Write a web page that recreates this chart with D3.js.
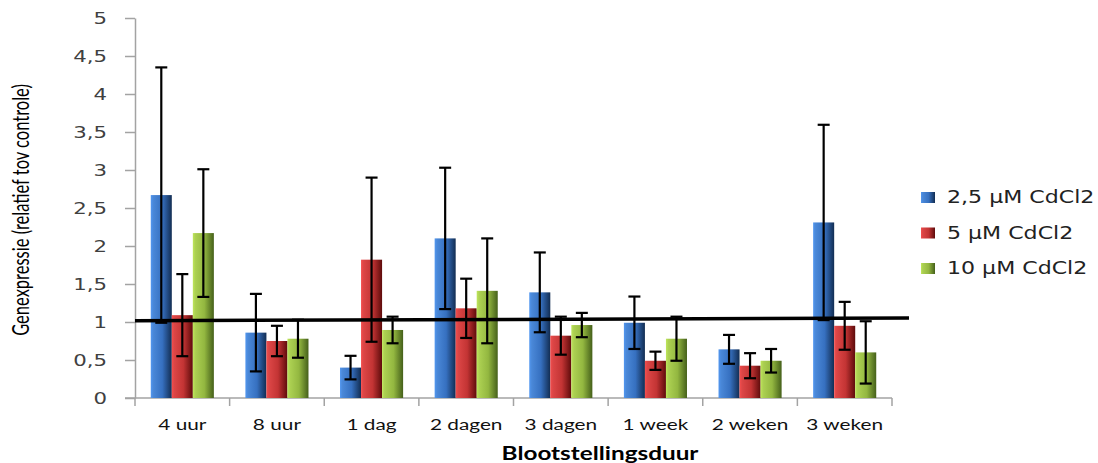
<!DOCTYPE html>
<html>
<head>
<meta charset="utf-8">
<script src="https://cdn.jsdelivr.net/npm/d3@7"></script>
<style>
  html, body { margin: 0; padding: 0; background: #fff; }
  svg { display: block; }
</style>
</head>
<body>
<svg id="chart" width="1098" height="463"></svg>
<script>
// Exposure durations
const categories = ["4 uur", "8 uur", "1 dag", "2 dagen", "3 dagen", "1 week", "2 weken", "3 weken"];
// CdCl2 concentrations
const seriesNames = ["2,5 µM CdCl2", "5 µM CdCl2", "10 µM CdCl2"];
// Mean relative expression per concentration
const values25 = [2.67, 0.86, 0.40, 2.10, 1.39, 0.99, 0.64, 2.31];
const values5  = [1.09, 0.75, 1.82, 1.18, 0.82, 0.49, 0.425, 0.95];
const values10 = [2.17, 0.78, 0.895, 1.41, 0.96, 0.78, 0.49, 0.60];
// Error (± half range) per bar
const err25 = [1.68, 0.51, 0.155, 0.93, 0.525, 0.345, 0.19, 1.285];
const err5  = [0.54, 0.20, 1.08, 0.39, 0.25, 0.12, 0.165, 0.315];
const err10 = [0.84, 0.25, 0.175, 0.69, 0.16, 0.29, 0.155, 0.41];
// y-axis ticks
const yTicks = [0, 0.5, 1, 1.5, 2, 2.5, 3, 3.5, 4, 4.5, 5];
// control level line (start, end)
const controlLine = [1.017, 1.053];

const seriesValues = [values25, values5, values10];
const seriesErrors = [err25, err5, err10];
const palettes = [
  { light: "#4a88d8", mid: "#3670c0", dark: "#122d52" },
  { light: "#dc4646", mid: "#c33434", dark: "#5e0b0b" },
  { light: "#acd052", mid: "#93b740", dark: "#45601a" }
];

const svg = d3.select("#chart");
const defs = svg.append("defs");
palettes.forEach((p, i) => {
  const g = defs.append("linearGradient")
    .attr("id", "grad" + i)
    .attr("x1", "0%").attr("x2", "100%").attr("y1", "0%").attr("y2", "0%");
  g.append("stop").attr("offset", "0%").attr("stop-color", d3.color(p.light).brighter(0.3));
  g.append("stop").attr("offset", "12%").attr("stop-color", p.light);
  g.append("stop").attr("offset", "55%").attr("stop-color", p.mid);
  g.append("stop").attr("offset", "100%").attr("stop-color", p.dark);
});

const x = d3.scaleBand().domain(categories).range([135, 892]).paddingInner(0).paddingOuter(0);
const xSub = d3.scaleBand().domain(d3.range(seriesNames.length)).range([0, x.bandwidth()])
  .paddingInner(0).paddingOuter(0.75);
const y = d3.scaleLinear().domain([0, 5]).range([398, 18]);

const axisColor = "#a3a3a3";
const stretch = "scale(1.3,1)";

// Y axis
const yAxis = svg.append("g").attr("transform", "translate(135,0)")
  .call(d3.axisLeft(y).tickValues(yTicks).tickSize(10).tickSizeOuter(0)
    .tickFormat(d => String(d).replace(".", ",")));
yAxis.select(".domain").attr("stroke", axisColor).attr("stroke-width", 1.5);
yAxis.selectAll(".tick line").attr("stroke", axisColor).attr("stroke-width", 1.5);
yAxis.selectAll(".tick text")
  .attr("x", null).attr("dy", "0.36em")
  .attr("transform", "translate(-28,0) scale(1.33,1)")
  .attr("fill", "#404040")
  .style("font-family", "'DejaVu Sans', Verdana, sans-serif")
  .style("font-size", "16px");

// X axis
const xAxis = svg.append("g").attr("transform", "translate(0,398)")
  .call(d3.axisBottom(x).tickSize(0).tickSizeOuter(0));
xAxis.select(".domain").attr("stroke", axisColor).attr("stroke-width", 1.5)
  .attr("d", "M125,0H" + x.range()[1]);
xAxis.selectAll(".tick text")
  .attr("y", null).attr("dy", null)
  .attr("transform", "translate(0,32) " + stretch)
  .attr("fill", "#111")
  .style("font-family", "Lato, 'Open Sans', sans-serif")
  .style("font-size", "16px");
const boundaries = categories.map(c => x(c)).concat([x.range()[1]]);
xAxis.selectAll(".bound").data(boundaries).join("line")
  .attr("class", "bound")
  .attr("x1", d => d).attr("x2", d => d)
  .attr("y1", 0).attr("y2", 8)
  .attr("stroke", axisColor).attr("stroke-width", 1.5);

// Bars
const groups = svg.append("g").selectAll("g").data(categories).join("g")
  .attr("transform", c => `translate(${x(c)},0)`);
groups.selectAll("rect")
  .data((c, ci) => seriesValues.map((vals, si) => ({ si, v: vals[ci] })))
  .join("rect")
  .attr("x", d => xSub(d.si))
  .attr("width", xSub.bandwidth())
  .attr("y", d => y(d.v))
  .attr("height", d => y(0) - y(d.v))
  .attr("fill", d => `url(#grad${d.si})`);

// Error bars
const errs = groups.selectAll("g.err")
  .data((c, ci) => seriesValues.map((vals, si) => ({ si, v: vals[ci], e: seriesErrors[si][ci] })))
  .join("g").attr("class", "err")
  .attr("transform", d => `translate(${xSub(d.si) + xSub.bandwidth() / 2},0)`)
  .attr("stroke", "#000").attr("stroke-width", 2.2).attr("fill", "none");
errs.append("line").attr("x1", 0).attr("x2", 0)
  .attr("y1", d => y(d.v + d.e)).attr("y2", d => y(d.v - d.e));
errs.append("line").attr("x1", -6).attr("x2", 6)
  .attr("y1", d => y(d.v + d.e)).attr("y2", d => y(d.v + d.e));
errs.append("line").attr("x1", -6).attr("x2", 6)
  .attr("y1", d => y(d.v - d.e)).attr("y2", d => y(d.v - d.e));

// Control level line
svg.append("line")
  .attr("x1", x.range()[0]).attr("x2", x.range()[1] + 17)
  .attr("y1", y(controlLine[0])).attr("y2", y(controlLine[1]))
  .attr("stroke", "#000").attr("stroke-width", 3.5);

// Axis titles
svg.append("text")
  .attr("transform", "translate(600,460) scale(1.35,1)")
  .attr("text-anchor", "middle")
  .style("font-family", "Lato, 'Open Sans', sans-serif")
  .style("font-size", "18px").style("font-weight", "bold")
  .attr("fill", "#000")
  .text("Blootstellingsduur");
svg.append("text")
  .attr("transform", "translate(29,210) scale(1.45,1) rotate(-90)")
  .attr("text-anchor", "middle")
  .style("font-family", "Lato, 'Open Sans', sans-serif")
  .style("font-size", "16.5px")
  .attr("fill", "#000")
  .text("Genexpressie (relatief tov controle)");

// Legend
const legend = svg.append("g").selectAll("g").data(seriesNames).join("g")
  .attr("transform", (d, i) => `translate(921,${192 + i * 35.5})`);
legend.append("rect")
  .attr("width", 14).attr("height", 11)
  .attr("fill", (d, i) => `url(#grad${i})`);
legend.append("text")
  .attr("transform", "translate(26,11) " + stretch)
  .style("font-family", "'DejaVu Sans', Verdana, sans-serif")
  .style("font-size", "17px")
  .attr("fill", "#222")
  .text(d => d);
</script>
</body>
</html>
